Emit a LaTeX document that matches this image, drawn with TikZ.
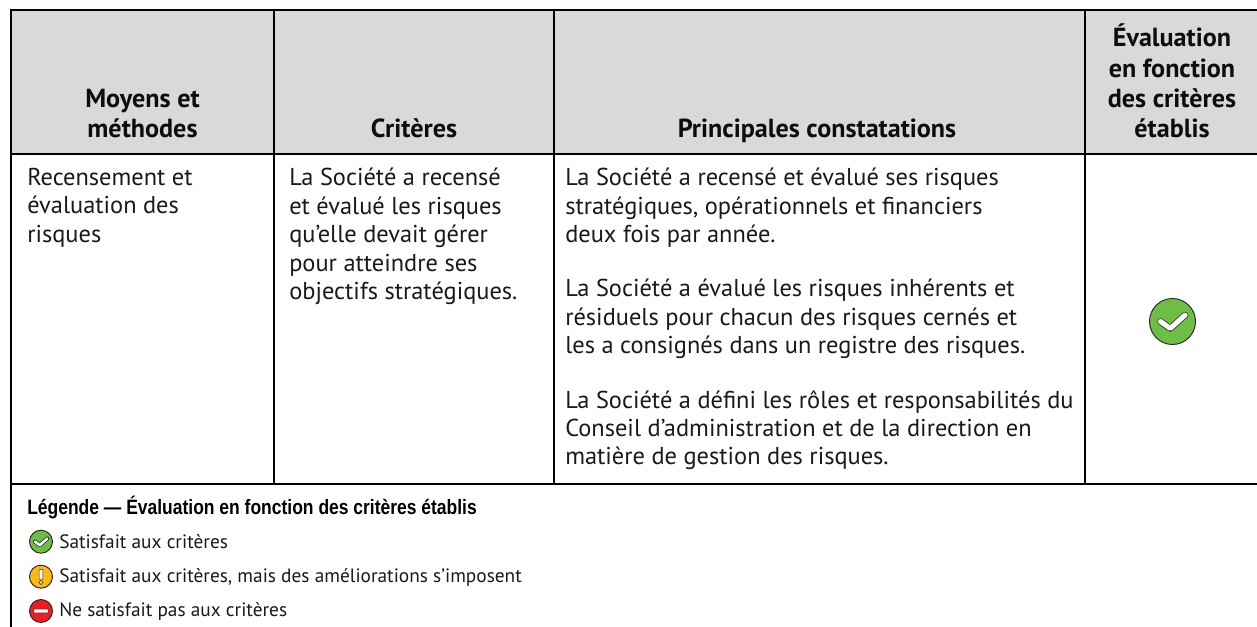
\documentclass[tikz,border=0pt]{standalone}
\usepackage{fontspec}
\setmainfont{PT Sans}
\newfontfamily\legfont[FakeStretch=0.84]{Liberation Sans}
\tikzset{
  rule/.style={line width=1.5pt,black},
  headtext/.style={font=\fontsize{19.6}{22.7}\selectfont\bfseries,align=center,anchor=south,inner sep=0pt,text=black!95,execute at end node=\strut},
  bodytext/.style={font=\fontsize{18.3}{21.3}\selectfont,align=left,anchor=north west,inner sep=0pt,text=black!90},
  legtext/.style={font=\fontsize{14.5}{16}\selectfont,anchor=base west,inner sep=0pt,text=black!90},
  legtitle/.style={font=\fontsize{15.6}{17}\selectfont\legfont\bfseries,anchor=base west,inner sep=0pt},
  iconring/.style={draw=black!85,line width=0.7pt}
}
\definecolor{headgray}{HTML}{D9D9D9}
\definecolor{okgreen}{HTML}{6DBE45}
\definecolor{warnyellow}{HTML}{FDB813}
\definecolor{stopred}{HTML}{ED1C24}
\newcommand{\okicon}[2]{%
  \begin{scope}[shift={(#1)},scale=#2]
    \fill[okgreen] (0,0) circle (1);
    \draw[iconring] (0,0) circle (1);
    \draw[line width=0.55pt,black!85,line cap=round,line join=round,double=white,double distance=#2*0.165pt] (-0.52,0) -- (-0.1,0.3) -- (0.55,-0.28);
  \end{scope}}
\begin{document}
\begin{tikzpicture}[x=0.75pt,y=-0.75pt]
\useasboundingbox (0,0) rectangle (1257,627);
\fill[headgray] (11,10) rectangle (1257,154);
% rules
\draw[rule] (10,10) -- (1257,10);
\draw[rule] (11,10) -- (11,627);
\draw[rule] (11,154) -- (1257,154);
\draw[rule] (274,10) -- (274,484);
\draw[rule] (554,10) -- (554,484);
\draw[rule] (1085,10) -- (1085,484);
\draw[rule] (11,484) -- (1257,484);
% header
\node[headtext] (h1) at (142.5,147) {Moyens et\\méthodes};
\node[headtext] (h2) at (414,147) {Critères};
\node[headtext] (h3) at (817,147) {Principales constatations};
\node[headtext] (h4) at (1172,147) {Évaluation\\en fonction\\des critères\\établis};
% body
\node[bodytext] (b1) at (27,168) {Recensement et\\évaluation des\\risques};
\node[bodytext] (b2) at (289,168) {La Société a recensé\\et évalué les risques\\qu’elle devait gérer\\pour atteindre ses\\objectifs stratégiques.};
\node[bodytext] (b3) at (565,168) {La Société a recensé et évalué ses risques\\stratégiques, opérationnels et financiers\\deux fois par année.};
\node[bodytext] (b4) at (565,279) {La Société a évalué les risques inhérents et\\résiduels pour chacun des risques cernés et\\les a consignés dans un registre des risques.};
\node[bodytext] (b5) at (565,390) {La Société a défini les rôles et responsabilités du\\Conseil d’administration et de la direction en\\matière de gestion des risques.};
\okicon{1172.5,321.5}{23}
% legend
\node[legtitle] (l0) at (27,514) {Légende — Évaluation en fonction des critères établis};
\okicon{41,541.7}{11.5}
\begin{scope}[shift={(41,576.7)},scale=11.5]
  \fill[warnyellow] (0,0) circle (1);
  \draw[iconring] (0,0) circle (1);
  \fill[white,draw=black!85,line width=0.4pt,rounded corners=0.3pt] (-0.17,-0.62) rectangle (0.17,0.22);
  \fill[white,draw=black!85,line width=0.4pt] (0,0.5) circle (0.17);
\end{scope}
\begin{scope}[shift={(41,611)},scale=11.5]
  \fill[stopred] (0,0) circle (1);
  \draw[iconring] (0,0) circle (1);
  \fill[white,draw=black!85,line width=0.4pt,rounded corners=0.3pt] (-0.62,-0.17) rectangle (0.62,0.17);
\end{scope}
\node[legtext] (l1) at (59,548.5) {Satisfait aux critères};
\node[legtext] (l2) at (59,582.5) {Satisfait aux critères, mais des améliorations s’imposent};
\node[legtext] (l3) at (59,616.5) {Ne satisfait pas aux critères};
\end{tikzpicture}
\end{document}
